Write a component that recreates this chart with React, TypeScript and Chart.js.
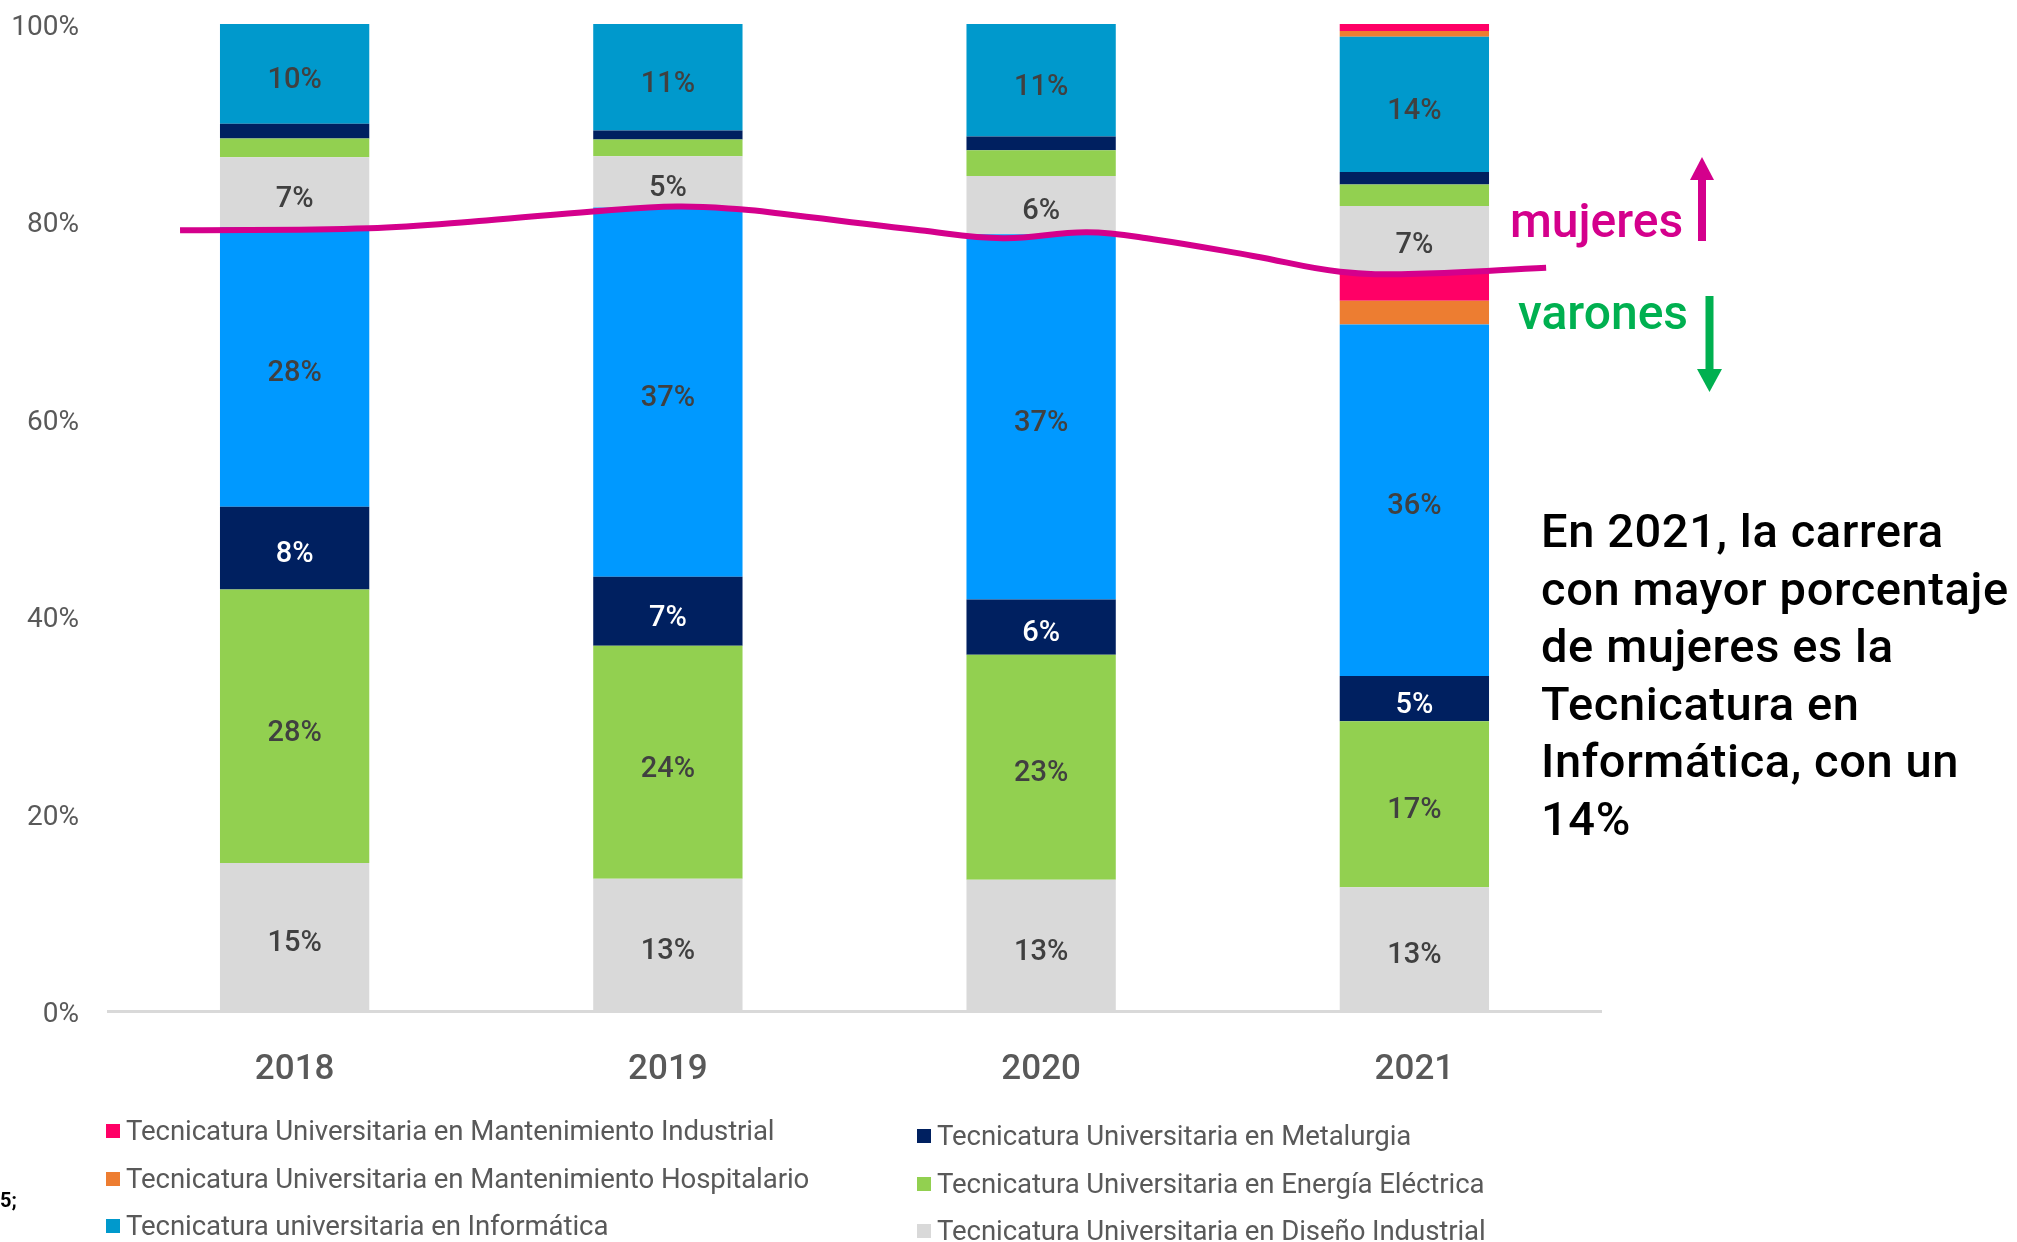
import React, { useEffect, useRef } from "react";
import { Chart, registerables } from "chart.js";

Chart.register(...registerables);

// ---- Data (percent of enrolment) ----
const years = ["2018", "2019", "2020", "2021"];

// varones (below the magenta line)
const disenoVarones = [15.0, 13.4, 13.3, 12.55];
const energiaVarones = [27.7, 23.6, 22.8, 16.8];
const metalurgiaVarones = [8.4, 7.0, 5.6, 4.6];
const informaticaVarones = [28.3, 37.4, 37.0, 35.6];
const hospitalarioVarones = [0, 0, 0, 2.4];
const industrialVarones = [0, 0, 0, 2.9];

// mujeres (above the magenta line)
const disenoMujeres = [7.1, 5.2, 5.9, 6.7];
const energiaMujeres = [1.9, 1.7, 2.6, 2.2];
const metalurgiaMujeres = [1.5, 0.9, 1.4, 1.25];
const informaticaMujeres = [10.1, 10.8, 11.4, 13.7];
const hospitalarioMujeres = [0, 0, 0, 0.6];
const industrialMujeres = [0, 0, 0, 0.7];

// hand-drawn divider curve (x in category units, y in %)
const curveX = [-0.307, 0.199, 0.513, 0.799, 1.024, 1.201, 1.3, 1.675, 1.898, 2.123, 2.3, 2.568, 2.801, 3.007, 3.353];
const curveY = [79.1, 79.3, 80.1, 81.0, 81.5, 81.2, 80.8, 79.1, 78.3, 78.9, 78.2, 76.5, 74.9, 74.7, 75.3];

const yTickStep = 20;

const legendCol1 = [
  { label: "Tecnicatura Universitaria en Mantenimiento Industrial", color: "#FF0066" },
  { label: "Tecnicatura Universitaria en Mantenimiento Hospitalario", color: "#ED7D31" },
  { label: "Tecnicatura universitaria en Informática", color: "#0099CC" },
];
const legendCol2 = [
  { label: "Tecnicatura Universitaria en Metalurgia", color: "#002060" },
  { label: "Tecnicatura Universitaria en Energía Eléctrica", color: "#92D050" },
  { label: "Tecnicatura Universitaria en Diseño Industrial", color: "#D9D9D9" },
];

const noteLines = [
  "En 2021, la carrera",
  "con mayor porcentaje",
  "de mujeres es la",
  "Tecnicatura en",
  "Informática, con un",
  "14%",
];

const FONT = "Roboto, 'Open Sans', sans-serif";

const segLabels = {
  id: "segLabels",
  afterDatasetsDraw(chart: any) {
    const ctx = chart.ctx;
    chart.data.datasets.forEach((ds: any, i: number) => {
      if (ds.type === "line") return;
      const meta = chart.getDatasetMeta(i);
      meta.data.forEach((el: any, j: number) => {
        const v = ds.data[j];
        if (v == null || v < 4.5) return;
        const p = el.getProps(["x", "y", "base"], true);
        ctx.save();
        ctx.font = `500 29px ${FONT}`;
        ctx.fillStyle = ds.labelColor || "#404040";
        ctx.textAlign = "center";
        ctx.textBaseline = "middle";
        ctx.fillText(Math.round(v) + "%", p.x, (p.y + p.base) / 2 + 7);
        ctx.restore();
      });
    });
  },
};

function bar(label: string, data: number[], color: string, labelColor = "#404040") {
  return {
    type: "bar" as const,
    label,
    data,
    backgroundColor: color,
    borderWidth: 0,
    xAxisID: "x",
    yAxisID: "y",
    stack: "s",
    grouped: false,
    barPercentage: 0.4,
    categoryPercentage: 1,
    order: 1,
    labelColor,
  };
}

export default function App() {
  const ref = useRef<HTMLCanvasElement | null>(null);

  useEffect(() => {
    if (!ref.current) return;
    const chart = new Chart(ref.current, {
      type: "bar",
      data: {
        labels: years,
        datasets: [
          bar("Diseño Industrial (varones)", disenoVarones, "#D9D9D9"),
          bar("Energía Eléctrica (varones)", energiaVarones, "#92D050"),
          bar("Metalurgia (varones)", metalurgiaVarones, "#002060", "#FFFFFF"),
          bar("Informática (varones)", informaticaVarones, "#0099FF"),
          bar("Mantenimiento Hospitalario (varones)", hospitalarioVarones, "#ED7D31"),
          bar("Mantenimiento Industrial (varones)", industrialVarones, "#FF0066"),
          bar("Diseño Industrial (mujeres)", disenoMujeres, "#D9D9D9"),
          bar("Energía Eléctrica (mujeres)", energiaMujeres, "#92D050"),
          bar("Metalurgia (mujeres)", metalurgiaMujeres, "#002060", "#FFFFFF"),
          bar("Informática (mujeres)", informaticaMujeres, "#0099CC"),
          bar("Mantenimiento Hospitalario (mujeres)", hospitalarioMujeres, "#ED7D31"),
          bar("Mantenimiento Industrial (mujeres)", industrialMujeres, "#FF0066"),
          {
            type: "line" as const,
            label: "divisoria",
            data: curveX.map((x, i) => ({ x, y: curveY[i] })),
            xAxisID: "xl",
            yAxisID: "y",
            borderColor: "#D4008C",
            borderWidth: 6,
            pointRadius: 0,
            tension: 0.4,
            fill: false,
            order: 0,
            clip: false,
          } as any,
        ],
      } as any,
      options: {
        responsive: false,
        animation: false,
        layout: { padding: { top: 24, right: 416, bottom: 0, left: 0 } },
        plugins: { legend: { display: false }, tooltip: { enabled: false } },
        scales: {
          x: {
            type: "category",
            stacked: true,
            offset: true,
            grid: { display: false, drawTicks: false },
            border: { display: true, color: "#D9D9D9", width: 3 },
            ticks: { color: "#595959", font: { family: FONT, size: 35, weight: "500" }, padding: 38 },
            afterFit: (s: any) => {
              s.height = 231;
              s.paddingLeft = 0;
              s.paddingRight = 0;
            },
          },
          xl: {
            type: "linear",
            display: false,
            offset: false,
            grace: 0,
            bounds: "ticks",
            min: -0.5,
            max: 3.5,
            grid: { offset: false, display: false },
          },
          y: {
            stacked: true,
            min: 0,
            max: 100,
            grid: { display: false, drawTicks: false },
            border: { display: false },
            ticks: {
              stepSize: yTickStep,
              color: "#595959",
              font: { family: FONT, size: 28 },
              padding: 29,
              labelOffset: 4,
              callback: (v: any) => v + "%",
            },
            afterFit: (s: any) => {
              s.width = 108;
              s.paddingTop = 0;
              s.paddingBottom = 0;
            },
          },
        },
      } as any,
      plugins: [segLabels],
    });
    return () => chart.destroy();
  }, []);

  const legendItem = (it: { label: string; color: string }, left: number, cy: number) => (
    <div
      key={it.label}
      style={{ position: "absolute", left, top: cy - 17, height: 34, display: "flex", alignItems: "center", whiteSpace: "nowrap" }}
    >
      <span style={{ display: "inline-block", width: 14, height: 14, background: it.color, marginRight: 6 }} />
      <span style={{ fontFamily: FONT, fontSize: 27.6, letterSpacing: "-0.1px", color: "#595959", lineHeight: "34px" }}>{it.label}</span>
    </div>
  );

  const rows1 = [1131, 1179, 1226];
  const rows2 = [1136, 1184, 1231];

  return (
    <div style={{ position: "fixed", left: 0, top: 0, width: 2017, height: 1242, background: "#FFFFFF", overflow: "hidden" }}>
      <canvas ref={ref} width={2017} height={1242} style={{ position: "absolute", left: 0, top: 0, width: 2017, height: 1242 }} />

      {legendCol1.map((it, i) => legendItem(it, 106, rows1[i]))}
      {legendCol2.map((it, i) => legendItem(it, 917, rows2[i]))}

      <div style={{ position: "absolute", left: 0, top: 1186, fontFamily: FONT, fontWeight: 700, fontSize: 20, lineHeight: "28px", color: "#000" }}>5;</div>

      <div style={{ position: "absolute", left: 1510, top: 197, fontFamily: FONT, fontWeight: 500, fontSize: 48, lineHeight: "48px", color: "#D4008C" }}>mujeres</div>
      <div style={{ position: "absolute", left: 1518, top: 289, fontFamily: FONT, fontWeight: 500, fontSize: 48, lineHeight: "48px", color: "#00B050" }}>varones</div>

      <svg width={2017} height={1242} style={{ position: "absolute", left: 0, top: 0, pointerEvents: "none" }}>
        <rect x={1698} y={176} width={8} height={65} fill="#D4008C" />
        <polygon points="1702,157 1690,180 1714,180" fill="#D4008C" />
        <rect x={1705.5} y={296} width={8} height={76} fill="#00B050" />
        <polygon points="1709.5,392 1697,369 1722,369" fill="#00B050" />
      </svg>

      <div style={{ position: "absolute", left: 1541, top: 502, fontFamily: FONT, fontWeight: 500, fontSize: 47, letterSpacing: "0.6px", lineHeight: "57.6px", color: "#000", whiteSpace: "nowrap" }}>
        {noteLines.map((l) => (
          <div key={l}>{l}</div>
        ))}
      </div>
    </div>
  );
}
